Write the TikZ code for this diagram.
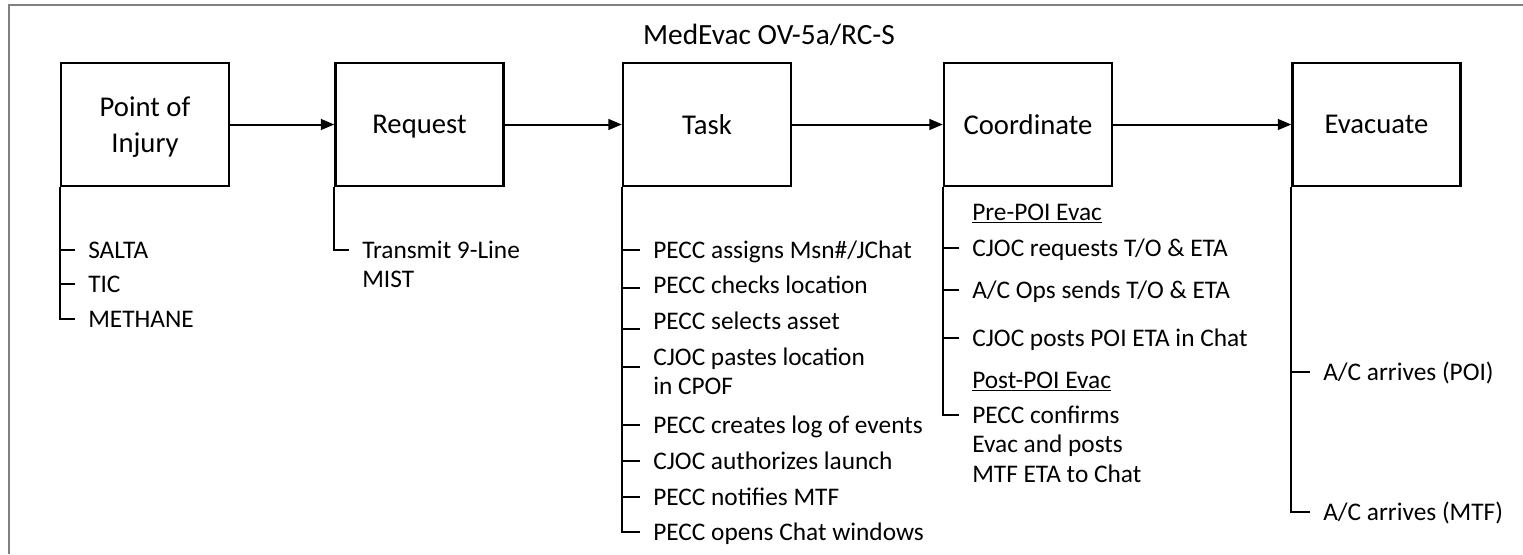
\documentclass[tikz,border=0pt]{standalone}
\usepackage{fontspec}
\setmainfont{Carlito}
\usetikzlibrary{arrows.meta}

\newcommand{\itemlines}[1]{\begin{tabular}[t]{@{}l@{}}#1\end{tabular}}

\tikzset{
  stage/.style={draw, line width=1.8pt, minimum width=126pt, minimum height=92.25pt,
    inner sep=0pt, align=center, text depth=0pt, font=\fontsize{21.5}{27}\selectfont},
  item/.style={anchor=base west, inner sep=0pt,
    font=\fontsize{19}{22.2}\selectfont},
  flow/.style={line width=1.5pt, -{Triangle[length=10pt,width=8pt]}},
  brace/.style={line width=1.5pt},
}

\begin{document}
\begin{tikzpicture}[x=0.75pt, y=-0.75pt]
\useasboundingbox (0,0) rectangle (1523,554);
\draw[gray, line width=1.5pt] (1523,5) -- (9,5) -- (9,554);

\node[anchor=base, inner sep=0pt, font=\fontsize{22}{26}\selectfont] (title) at (769,44) {MedEvac OV-5a/RC-S};

\node[stage] (poi) at (145,124.5) {Point of\\Injury};
\node[stage] (req) at (419.5,124.5) {Request};
\node[stage] (task) at (707,124.5) {Task};
\node[stage] (coord) at (1028,124.5) {Coordinate};
\node[stage] (evac) at (1376.5,124.5) {Evacuate};

\draw[flow] (poi) -- (req);
\draw[flow] (req) -- (task);
\draw[flow] (task) -- (coord);
\draw[flow] (coord) -- (evac);

\node[item] (salta) at (88,258) {SALTA};
\node[item] (tic) at (88,292) {TIC};
\node[item] (methane) at (88,327) {METHANE};

\node[item] (transmit) at (362,258) {\itemlines{Transmit 9-Line\\MIST}};

\node[item] (assigns) at (653,258) {PECC assigns Msn\#/JChat};
\node[item] (checks) at (653,293) {PECC checks location};
\node[item] (selects) at (653,329) {PECC selects asset};
\node[item] (pastes) at (653,365) {\itemlines{CJOC pastes location\\in CPOF}};
\node[item] (creates) at (653,433) {PECC creates log of events};
\node[item] (authorizes) at (653,469) {CJOC authorizes launch};
\node[item] (notifies) at (653,505) {PECC notifies MTF};
\node[item] (opens) at (653,540) {PECC opens Chat windows};

\node[item] (prepoi) at (972,220) {\underline{Pre-POI Evac}};
\node[item] (requests) at (972,256) {CJOC requests T/O \& ETA};
\node[item] (sends) at (972,298) {A/C Ops sends T/O \& ETA};
\node[item] (posts) at (972,346) {CJOC posts POI ETA in Chat};
\node[item] (postpoi) at (972,388) {\underline{Post-POI Evac}};
\node[item] (confirms) at (972,423) {\itemlines{PECC confirms\\Evac and posts\\MTF ETA to Chat}};

\node[item] (arrpoi) at (1323,380) {A/C arrives (POI)};
\node[item] (arrmtf) at (1323,520) {A/C arrives (MTF)};

\foreach \n/\b/\dy in {salta/poi/6, tic/poi/6, assigns/task/6, checks/task/4,
    selects/task/0, pastes/task/-1.5, creates/task/6, authorizes/task/6,
    notifies/task/6, requests/coord/6, sends/coord/6, posts/coord/6, arrpoi/evac/6} {
  \coordinate (t-\n) at ([xshift=-9.75pt, yshift=\dy pt]\n.base west);
  \draw[brace] (t-\n) -- (t-\n -| \b.south west);
}
\foreach \n/\b in {methane/poi, transmit/req, opens/task, confirms/coord, arrmtf/evac} {
  \coordinate (t-\n) at ([xshift=-9.75pt, yshift=6pt]\n.base west);
  \draw[brace] (t-\n) -| (\b.south west);
}

\end{tikzpicture}
\end{document}
